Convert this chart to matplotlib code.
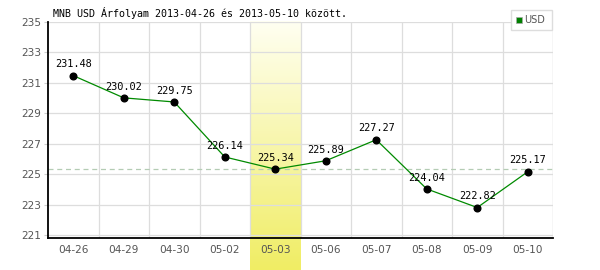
import numpy as np
import matplotlib
matplotlib.use("Agg")
import matplotlib.pyplot as plt
from matplotlib.patches import Rectangle

dates = ["04-26", "04-29", "04-30", "05-02", "05-03", "05-06", "05-07", "05-08", "05-09", "05-10"]
values = [231.48, 230.02, 229.75, 226.14, 225.34, 225.89, 227.27, 224.04, 222.82, 225.17]
highlight_idx = 4
ref_value = 225.34
yticks = [221, 223, 225, 227, 229, 231, 233, 235]
title = "MNB USD Árfolyam 2013-04-26 és 2013-05-10 között."
legend_label = "USD"

W, H = 600, 270
fig = plt.figure(figsize=(6, 2.7), dpi=100)
fig.patch.set_facecolor("white")

left, right, top, bottom = 48, 553, 22, 238.3
ax_pos = [left / W, 1 - bottom / H, (right - left) / W, (bottom - top) / H]

n = len(dates)
# highlight gradient band (extends below axes)
bx0 = left + (right - left) * highlight_idx / n
bx1 = left + (right - left) * (highlight_idx + 1) / n
band_top = 21
bax = fig.add_axes([bx0 / W, 0, (bx1 - bx0) / W, (H - band_top) / H], zorder=0)
grad = np.linspace(0, 1, 256)[:, None]
c_top = np.array([255, 255, 242]) / 255
c_bot = np.array([240, 237, 100]) / 255
img = c_top[None, None, :] * (1 - grad[:, :, None]) + c_bot[None, None, :] * grad[:, :, None]
bax.imshow(img, aspect="auto", extent=[0, 1, 0, 1])
bax.axis("off")

ax = fig.add_axes(ax_pos, zorder=1)
ax.patch.set_alpha(0)
x = np.arange(n)
ax.set_xlim(-0.5, n - 0.5)
ax.set_ylim(220.8, 235)

# grid
for b in np.arange(0.5, n, 1.0):
    ax.axvline(b, color="#dddddd", lw=0.9, zorder=1)
ax.axvline(n - 0.5, color="#dddddd", lw=0.9, zorder=1)
for yt in yticks:
    ax.axhline(yt, color="#dddddd", lw=0.9, zorder=1)

ax.axhline(ref_value, color="#b4ccb4", lw=0.9, ls=(0, (4, 3)), zorder=2)

ax.plot(x, values, color="#008a00", lw=0.9, zorder=3)
ax.plot(x, values, "o", color="black", markersize=4.8, zorder=4)
for xi, v in zip(x, values):
    ax.annotate(f"{v:.2f}", (xi, v), xytext=(0, 4.5), textcoords="offset points",
                ha="center", va="bottom", fontsize=7.4, family="DejaVu Sans Mono",
                color="black", zorder=5)

for s in ["top", "right"]:
    ax.spines[s].set_visible(False)
ax.spines["left"].set_color("black")
ax.spines["bottom"].set_color("black")
ax.spines["left"].set_linewidth(1.3)
ax.spines["bottom"].set_linewidth(1.3)
ax.spines["left"].set_zorder(6)
ax.spines["bottom"].set_zorder(6)

ax.set_yticks(yticks)
ax.set_yticklabels([str(t) for t in yticks])
ax.set_xticks(x)
ax.set_xticklabels(dates)
ax.tick_params(axis="y", length=3, color="#cccccc", pad=2, labelsize=7.6, labelcolor="#555555")
ax.tick_params(axis="x", length=0, pad=5, labelsize=7.6, labelcolor="#555555")

fig.text(53 / W, 1 - 13 / H, title, fontsize=7.2, family="DejaVu Sans Mono",
         color="black", ha="left", va="center")

# legend box
lx0, lx1, ly0, ly1 = 511, 552, 10, 30
fig.patches.append(Rectangle((lx0 / W, 1 - ly1 / H), (lx1 - lx0) / W, (ly1 - ly0) / H,
                             transform=fig.transFigure, facecolor="white",
                             edgecolor="#dddddd", lw=1, zorder=10))
fig.patches.append(Rectangle((516 / W, 1 - 23 / H), 6 / W, 6 / H,
                             transform=fig.transFigure, facecolor="#008000",
                             edgecolor="#aaaaaa", lw=0.5, zorder=11))
t = fig.text(524 / W, 1 - 20 / H, legend_label, fontsize=7, color="#555555",
             ha="left", va="center", zorder=12)

fig.savefig("out.png", dpi=100)
